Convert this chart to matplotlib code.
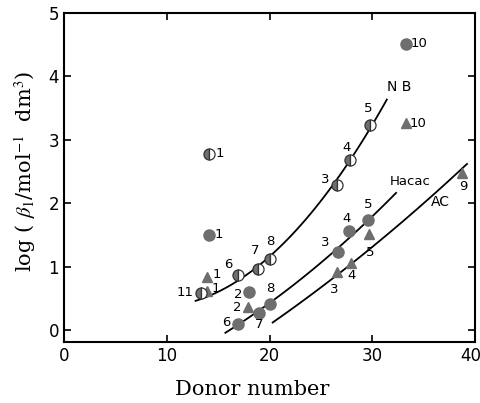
import numpy as np
import matplotlib.pyplot as plt
from matplotlib.transforms import ScaledTranslation

plt.rcParams['font.family'] = 'DejaVu Sans'
plt.rcParams['mathtext.fontset'] = 'stix'

# -----------------------
# Data
# -----------------------
# NB solvent: half-filled circles
nb_x = [13.3, 16.9, 18.9, 20.0, 26.6, 27.8, 29.8, 14.1]
nb_y = [0.59, 0.87, 0.96, 1.12, 2.29, 2.68, 3.23, 2.78]
nb_lab = ['11', '6', '7', '8', '3', '4', '5', '1']

# Hacac: filled circles
hc_x = [16.9, 19.0, 20.0, 18.0, 26.7, 27.7, 29.6, 14.1, 33.3]
hc_y = [0.09, 0.27, 0.41, 0.60, 1.23, 1.56, 1.74, 1.50, 4.51]
hc_lab = ['6', '7', '8', '2', '3', '4', '5', '1', '10']

# AC: triangles
ac_x = [13.9, 13.9, 17.9, 26.6, 27.9, 29.7, 38.7, 33.3]
ac_y = [0.84, 0.62, 0.36, 0.91, 1.06, 1.51, 2.48, 3.26]
ac_lab = ['1', '1', '2', '3', '4', '5', '9', '10']

# points
nb_cx = [12.8, 15.0, 17.0, 20.0, 23.0, 26.6, 29.8, 31.4]
nb_cy = [0.41, 0.62, 0.85, 1.18, 1.65, 2.30, 3.18, 3.68]
hc_cx = [15.7, 17.0, 20.0, 24.0, 27.5, 30.0, 32.3]
hc_cy = [-0.06, 0.10, 0.45, 0.93, 1.40, 1.78, 2.18]
ac_cx = [20.3, 24.0, 28.0, 32.0, 36.0, 39.2]
ac_cy = [0.12, 0.55, 1.05, 1.60, 2.12, 2.63]

# label offsets from the marker, in pixels (right, up)
nb_off = [(-16, 0), (-9, 10), (-3, 19), (1, 18), (-12, 5), (-3, 13), (-2, 17), (11, 0)]
hc_off = [(-11, 2), (0, -12), (1, 16), (-11, -2), (-13, 10), (-2, 13), (0, 15), (10, 0), (13, 0)]
ac_off = [(10, 2), (9, 2), (-11, 0), (-3, -17), (1, -13), (1, -18), (1, -14), (12, 0)]

grey = '#6e6e6e'

fig = plt.figure(figsize=(4.81, 4.03), dpi=100)
ax = fig.add_axes([0.133, 0.151, 0.855, 0.817])

def curve(ax, x, y):
    p = np.polyfit(x, y, 2)
    xs = np.linspace(x[0], x[-1], 100)
    ax.plot(xs, np.polyval(p, xs), color='black', lw=1.3)

curve(ax, nb_cx, nb_cy)
curve(ax, hc_cx, hc_cy)
curve(ax, ac_cx, ac_cy)

ax.plot(ac_x, ac_y, ls='none', marker='^', ms=7, color=grey, mec=grey)
ax.plot(hc_x, hc_y, ls='none', marker='o', ms=8, color=grey, mec=grey)
ax.plot(nb_x, nb_y, ls='none', marker='o', ms=8, fillstyle='left',
        color=grey, markerfacecoloralt='white', mec='#333333', mew=0.9)

for xs, ys, labs, offs in [(nb_x, nb_y, nb_lab, nb_off),
                           (hc_x, hc_y, hc_lab, hc_off),
                           (ac_x, ac_y, ac_lab, ac_off)]:
    for x, y, t, o in zip(xs, ys, labs, offs):
        ax.annotate(t, (x, y), xytext=(o[0] * 0.72, o[1] * 0.72),
                    textcoords='offset points',
                    fontsize=9.5, ha='center', va='center')

ax.text(31.4, 3.83, 'N B', fontsize=10, va='center')
ax.text(31.7, 2.35, 'Hacac', fontsize=9.5, va='center')
ax.text(35.7, 2.02, 'AC', fontsize=10, va='center')

ax.set_xlim(0, 40)
ax.set_ylim(-0.19, 5)
ax.set_xticks([0, 10, 20, 30, 40])
ax.set_yticks([0, 1, 2, 3, 4, 5])
ax.tick_params(direction='in', top=True, right=True, length=5, width=1.2,
               labelsize=12)
for s in ax.spines.values():
    s.set_linewidth(1.5)

# pull the last x tick label a bit inside the figure
fig.canvas.draw()
lab40 = ax.get_xticklabels()[-1]
lab40.set_transform(lab40.get_transform() + ScaledTranslation(-4 / 100, 0, fig.dpi_scale_trans))

fig.text(0.524, 0.033, 'Donor number', family='DejaVu Serif', fontsize=15,
         ha='center', va='center')
fig.text(0.052, 0.575, r'log ( $\beta_1$/mol$^{-1}$  dm$^3$)', family='DejaVu Serif',
         fontsize=15, rotation=90, ha='center', va='center')

fig.savefig('out.png', dpi=100)
